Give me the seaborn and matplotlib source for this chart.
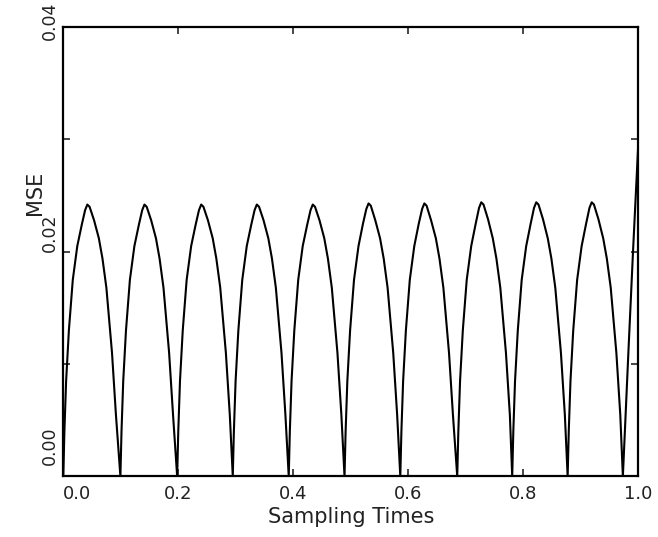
import matplotlib
matplotlib.use("Agg")
import matplotlib.pyplot as plt
import matplotlib.transforms as mtransforms
import seaborn as sns
import pandas as pd

# ---- data ----
sampling_times = [
    0.0000, 0.0019, 0.0049, 0.0097, 0.0165, 0.0243, 0.0321, 0.0379, 0.0418, 0.0457, 0.0535, 0.0618, 0.0681, 0.0749, 0.0847, 0.0915,
    0.0993, 0.1012, 0.1042, 0.1090, 0.1158, 0.1236, 0.1314, 0.1372, 0.1411, 0.1450, 0.1528, 0.1611, 0.1674, 0.1742, 0.1840, 0.1908,
    0.1980, 0.1999, 0.2029, 0.2077, 0.2145, 0.2223, 0.2301, 0.2359, 0.2398, 0.2437, 0.2515, 0.2598, 0.2661, 0.2729, 0.2827, 0.2895,
    0.2947, 0.2966, 0.2996, 0.3044, 0.3112, 0.3190, 0.3268, 0.3326, 0.3365, 0.3404, 0.3482, 0.3565, 0.3628, 0.3696, 0.3794, 0.3862,
    0.3920, 0.3939, 0.3969, 0.4017, 0.4085, 0.4163, 0.4241, 0.4299, 0.4338, 0.4377, 0.4455, 0.4538, 0.4601, 0.4669, 0.4767, 0.4835,
    0.4890, 0.4909, 0.4939, 0.4987, 0.5055, 0.5133, 0.5211, 0.5269, 0.5308, 0.5347, 0.5425, 0.5508, 0.5571, 0.5639, 0.5737, 0.5805,
    0.5860, 0.5879, 0.5909, 0.5957, 0.6025, 0.6103, 0.6181, 0.6239, 0.6278, 0.6317, 0.6395, 0.6478, 0.6541, 0.6609, 0.6707, 0.6775,
    0.6850, 0.6869, 0.6899, 0.6947, 0.7015, 0.7093, 0.7171, 0.7229, 0.7268, 0.7307, 0.7385, 0.7468, 0.7531, 0.7599, 0.7697, 0.7765,
    0.7806, 0.7825, 0.7855, 0.7903, 0.7971, 0.8049, 0.8127, 0.8185, 0.8224, 0.8263, 0.8341, 0.8424, 0.8487, 0.8555, 0.8653, 0.8721,
    0.8770, 0.8789, 0.8819, 0.8867, 0.8935, 0.9013, 0.9091, 0.9149, 0.9188, 0.9227, 0.9305, 0.9388, 0.9451, 0.9519, 0.9617, 0.9685,
    0.9730, 0.9830, 0.9910, 1.0000,
]
mse = [
    0.0000, 0.0040, 0.0085, 0.0130, 0.0175, 0.0205, 0.0224, 0.0237, 0.0242, 0.0240, 0.0228, 0.0212, 0.0194, 0.0168, 0.0110, 0.0055,
    0.0000, 0.0040, 0.0085, 0.0130, 0.0175, 0.0205, 0.0224, 0.0237, 0.0242, 0.0240, 0.0228, 0.0212, 0.0194, 0.0168, 0.0110, 0.0055,
    0.0000, 0.0040, 0.0085, 0.0130, 0.0175, 0.0205, 0.0224, 0.0237, 0.0242, 0.0240, 0.0228, 0.0212, 0.0194, 0.0168, 0.0110, 0.0055,
    0.0000, 0.0040, 0.0085, 0.0130, 0.0175, 0.0205, 0.0224, 0.0237, 0.0242, 0.0240, 0.0228, 0.0212, 0.0194, 0.0168, 0.0110, 0.0055,
    0.0000, 0.0040, 0.0085, 0.0130, 0.0175, 0.0205, 0.0224, 0.0237, 0.0242, 0.0240, 0.0228, 0.0212, 0.0194, 0.0168, 0.0110, 0.0055,
    0.0000, 0.0040, 0.0085, 0.0130, 0.0175, 0.0205, 0.0225, 0.0238, 0.0243, 0.0241, 0.0228, 0.0212, 0.0194, 0.0168, 0.0110, 0.0055,
    0.0000, 0.0040, 0.0085, 0.0130, 0.0175, 0.0205, 0.0225, 0.0238, 0.0243, 0.0241, 0.0228, 0.0212, 0.0194, 0.0168, 0.0110, 0.0055,
    0.0000, 0.0040, 0.0085, 0.0130, 0.0175, 0.0205, 0.0225, 0.0239, 0.0244, 0.0242, 0.0229, 0.0212, 0.0194, 0.0168, 0.0110, 0.0055,
    0.0000, 0.0040, 0.0085, 0.0130, 0.0175, 0.0205, 0.0225, 0.0239, 0.0244, 0.0242, 0.0229, 0.0212, 0.0194, 0.0168, 0.0110, 0.0055,
    0.0000, 0.0040, 0.0085, 0.0130, 0.0175, 0.0205, 0.0225, 0.0239, 0.0244, 0.0242, 0.0229, 0.0212, 0.0194, 0.0168, 0.0110, 0.0055,
    0.0000, 0.0115, 0.0204, 0.0298,
]
x_ticks = [0.0, 0.2, 0.4, 0.6, 0.8, 1.0]
x_tick_labels = ["0.0", "0.2", "0.4", "0.6", "0.8", "1.0"]
y_ticks = [0.00, 0.01, 0.02, 0.03, 0.04]
y_tick_labels = ["0.00", "", "0.02", "", "0.04"]

df = pd.DataFrame({"Sampling Times": sampling_times, "MSE": mse})

sns.set_style("ticks")
plt.rcParams["font.family"] = ["DejaVu Sans"]

fig = plt.figure(figsize=(6.58, 5.37), dpi=100)
ax = fig.add_axes([0.0962, 0.1127, 0.874, 0.837])

sns.lineplot(data=df, x="Sampling Times", y="MSE", ax=ax, color="black",
             linewidth=1.5, sort=False, estimator=None)

ax.set_xlim(0, 1.0)
ax.set_ylim(0, 0.04)
ax.set_xticks(x_ticks)
ax.set_xticklabels(x_tick_labels, fontsize=13, color="#222222")
ax.set_yticks(y_ticks)
ax.set_yticklabels(y_tick_labels, fontsize=12.5, rotation=90, va="center", color="#222222")

ax.tick_params(direction="in", length=5, width=1.2, top=True, right=True)
ax.tick_params(axis="y", pad=3)
ax.tick_params(axis="x", pad=6)
for s in ax.spines.values():
    s.set_linewidth(1.6)
    s.set_visible(True)
    s.set_color("black")

# first x label sits to the right of the corner, as in the reference
xl = ax.get_xticklabels()
xl[0].set_horizontalalignment("left")
# y labels sit a little above their ticks in the reference
y_shift_px = {"0.00": 31, "0.02": 19, "0.04": 6}
for lab in ax.get_yticklabels():
    dy = y_shift_px.get(lab.get_text(), 0)
    off = mtransforms.ScaledTranslation(0, dy / 100.0, fig.dpi_scale_trans)
    lab.set_transform(lab.get_transform() + off)

ax.set_xlabel("Sampling Times", fontsize=15, color="#222222", labelpad=3)
ax.set_ylabel("MSE", fontsize=15, color="#222222")
ax.yaxis.set_label_coords(-0.032, 0.63)

fig.savefig("out.png", dpi=100)
